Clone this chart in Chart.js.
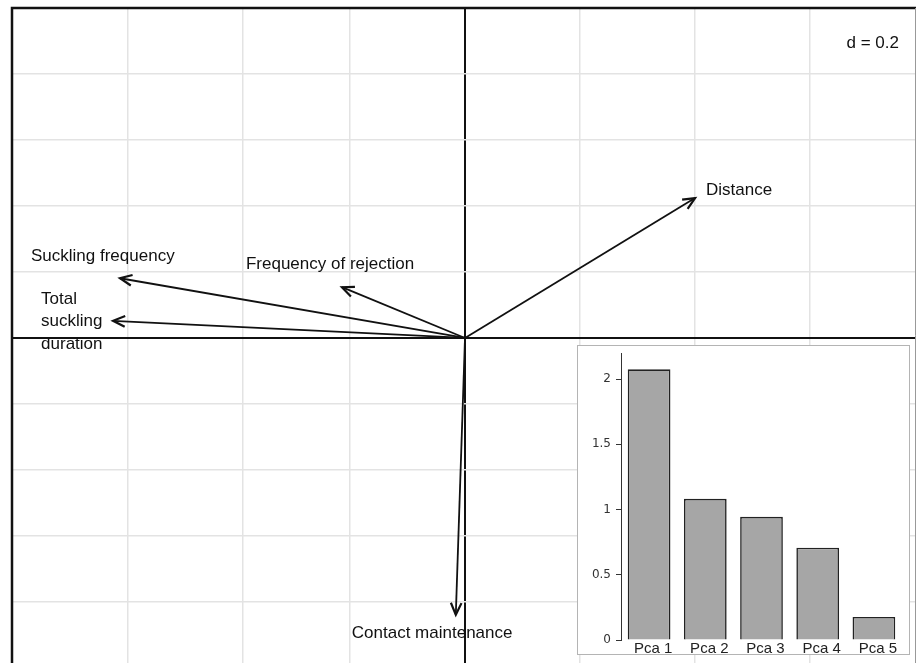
<!DOCTYPE html>
<html>
<head>
<meta charset="utf-8">
<script src="https://cdn.jsdelivr.net/npm/chart.js@4"></script>
<style>
  body { margin: 0; background: #fff; }
  #wrap { position: relative; width: 917px; height: 663px; overflow: hidden; }
  #inset { position: absolute; left: 577px; top: 345px; width: 331px; height: 308px;
           border: 1px solid #b4b4b4; background: #fff; }
</style>
</head>
<body>
<div id="wrap">
  <canvas id="main" width="917" height="663"></canvas>
  <div id="inset"><canvas id="eig" width="331" height="308"></canvas></div>
</div>
<script>
// variable loadings on the two first axes
const variables = ['Distance', 'Suckling frequency', 'Total suckling duration', 'Frequency of rejection', 'Contact maintenance'];
const axis1 = [0.400, -0.600, -0.612, -0.214, -0.016];
const axis2 = [0.424, 0.181, 0.052, 0.154, -0.839];

// grid positions (d = 0.2)
const xGrid = [-0.587, -0.387, -0.2, 0, 0.2, 0.4, 0.6];
const yGrid = [-0.8, -0.6, -0.4, -0.2, 0, 0.2, 0.4, 0.6, 0.8];

// eigenvalues inset
const pcaLabels = ['Pca 1', 'Pca 2', 'Pca 3', 'Pca 4', 'Pca 5'];
const eigenvalues = [2.075, 1.082, 0.944, 0.708, 0.177];
const eigTicks = [0, 0.5, 1, 1.5, 2];

// label placement, pixels from the arrow tip
const labelStyle = {
  'Distance': { lines: ['Distance'], dx: 11, dy: -8 },
  'Suckling frequency': { lines: ['Suckling frequency'], dx: -89, dy: -22 },
  'Total suckling duration': { lines: ['Total', 'suckling', 'duration'], dx: -72, dy: -22 },
  'Frequency of rejection': { lines: ['Frequency of rejection'], dx: -96, dy: -23 },
  'Contact maintenance': { lines: ['Contact maintenance'], dx: -104, dy: 18 }
};
const labelFont = '17px "Liberation Sans", Arial, sans-serif';

const arrowPlugin = {
  id: 'arrows',
  afterDatasetsDraw(chart) {
    const ctx = chart.ctx;
    const xs = chart.scales.x, ys = chart.scales.y;
    const x0 = xs.getPixelForValue(0), y0 = ys.getPixelForValue(0);
    ctx.save();
    ctx.strokeStyle = '#111';
    ctx.lineWidth = 2.2;
    ctx.fillStyle = '#111';
    ctx.font = labelFont;
    ctx.textBaseline = 'middle';
    ctx.textAlign = 'left';
    variables.forEach((name, i) => {
      const tx = xs.getPixelForValue(axis1[i]);
      const ty = ys.getPixelForValue(axis2[i]);
      const ang = Math.atan2(ty - y0, tx - x0);
      const len = 13, spread = 0.42;
      ctx.beginPath();
      ctx.moveTo(tx - len * Math.cos(ang - spread), ty - len * Math.sin(ang - spread));
      ctx.lineTo(tx, ty);
      ctx.lineTo(tx - len * Math.cos(ang + spread), ty - len * Math.sin(ang + spread));
      ctx.stroke();
      const st = labelStyle[name];
      st.lines.forEach((line, k) => {
        ctx.fillText(line, tx + st.dx, ty + st.dy + k * 22.5);
      });
    });
    ctx.textAlign = 'right';
    ctx.fillText('d = 0.2', 899, 43);
    ctx.restore();
  },
  afterDraw(chart) {
    const a = chart.chartArea;
    const ctx = chart.ctx;
    ctx.save();
    ctx.strokeStyle = '#111';
    ctx.lineWidth = 2.5;
    ctx.beginPath();
    ctx.moveTo(a.left, chart.height);
    ctx.lineTo(a.left, a.top);
    ctx.lineTo(a.right, a.top);
    ctx.stroke();
    ctx.strokeStyle = '#999';
    ctx.lineWidth = 1;
    ctx.beginPath();
    ctx.moveTo(a.right - 0.5, a.top);
    ctx.lineTo(a.right - 0.5, chart.height);
    ctx.stroke();
    ctx.restore();
  }
};

const arrowSets = variables.map((name, i) => ({
  label: name,
  data: [{ x: 0, y: 0 }, { x: axis1[i], y: axis2[i] }],
  showLine: true,
  borderColor: '#111',
  borderWidth: 1.8,
  pointRadius: 0
}));

const gridColor = c => c.tick && c.tick.value === 0 ? '#111' : '#e3e3e3';
const gridWidth = c => c.tick && c.tick.value === 0 ? 2 : 1.5;

new Chart(document.getElementById('main'), {
  type: 'scatter',
  data: { datasets: arrowSets },
  options: {
    responsive: false,
    animation: false,
    layout: { padding: { left: 12, top: 8, right: 1, bottom: 0 } },
    plugins: { legend: { display: false }, tooltip: { enabled: false } },
    scales: {
      x: {
        type: 'linear', min: -0.7878, max: 0.7843,
        ticks: { display: false },
        grid: { color: gridColor, lineWidth: gridWidth, drawTicks: false },
        border: { display: false },
        afterBuildTicks: s => { s.ticks = xGrid.map(v => ({ value: v })); },
        afterFit: s => { s.height = 0; }
      },
      y: {
        type: 'linear', min: -0.985, max: 1.0,
        ticks: { display: false },
        grid: { color: gridColor, lineWidth: gridWidth, drawTicks: false },
        border: { display: false },
        afterBuildTicks: s => { s.ticks = yGrid.map(v => ({ value: v })); },
        afterFit: s => { s.width = 0; }
      }
    }
  },
  plugins: [arrowPlugin]
});

new Chart(document.getElementById('eig'), {
  type: 'bar',
  data: {
    labels: pcaLabels,
    datasets: [{
      data: eigenvalues,
      backgroundColor: '#a6a6a6',
      borderColor: '#222',
      borderWidth: 1.6,
      barPercentage: 0.76,
      categoryPercentage: 1
    }]
  },
  options: {
    responsive: false,
    animation: false,
    layout: { padding: { left: 0, top: 7, right: 7, bottom: 0 } },
    plugins: { legend: { display: false }, tooltip: { enabled: false } },
    scales: {
      x: {
        grid: { display: false, drawTicks: false, tickLength: 0 },
        border: { display: false },
        ticks: { font: { family: '"Liberation Sans", Arial, sans-serif', size: 15 }, color: '#222',
                 padding: 0, labelOffset: 4, maxRotation: 0, autoSkip: false },
        afterFit: s => { s.height = 14; s.paddingLeft = 0; s.paddingRight = 0; }
      },
      y: {
        min: 0, max: 2.2,
        grid: { drawOnChartArea: false, drawTicks: true, tickLength: 5, color: '#333' },
        border: { display: true, color: '#333', width: 1 },
        ticks: { font: { family: '"DejaVu Sans", sans-serif', size: 12 }, color: '#333', padding: 5,
                 callback: v => String(v) },
        afterBuildTicks: s => { s.ticks = eigTicks.map(v => ({ value: v })); },
        afterFit: s => { s.width = 43; s.paddingTop = 0; s.paddingBottom = 0; }
      }
    }
  }
});
</script>
</body>
</html>
